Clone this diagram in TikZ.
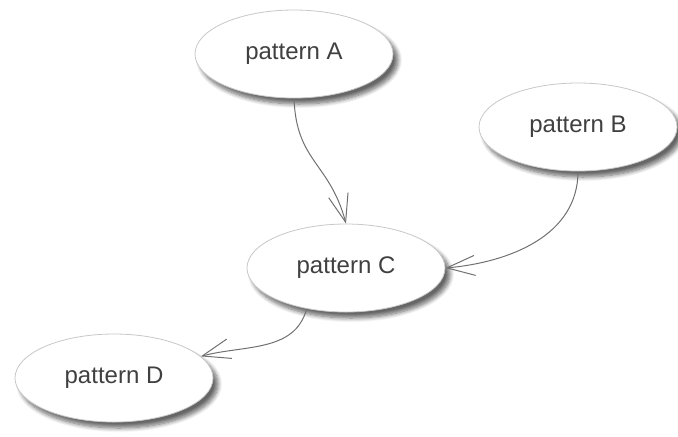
\documentclass[tikz,border=0pt]{standalone}
\usepackage{xcolor}
\usepackage{fontspec}
\setmainfont{Liberation Sans}
\usepackage{tikz}
\usetikzlibrary{shapes.geometric, arrows.meta, shadows.blur}
\definecolor{inkgray}{HTML}{404040}
\definecolor{edgegray}{HTML}{707070}
\definecolor{rimgray}{HTML}{C8C8C8}

\begin{document}
\begin{tikzpicture}[x=0.5pt, y=-0.5pt, font=\fontsize{12}{14}\selectfont]
    \tikzstyle{pattern} = [ellipse, minimum width=99pt, minimum height=44pt, inner sep=0pt,
      draw=rimgray, line width=0.4pt, fill=white, text=inkgray,
      blur shadow={shadow xshift=2.5pt, shadow yshift=-3pt, shadow blur steps=8, shadow opacity=60}]
    \tikzstyle{link} = [-{Straight Barb[length=14pt, width=10pt]}, draw=edgegray, line width=0.5pt]

    \useasboundingbox (0,0) rectangle (678,436);

    \node (patA) [pattern] at (294,54)  {pattern A};
    \node (patB) [pattern] at (578,127) {pattern B};
    \node (patC) [pattern] at (346,268) {pattern C};
    \node (patD) [pattern] at (114,378) {pattern D};

    \draw [link] (patA.south) to[out=-88, in=105, looseness=1.2] (patC.north);
    \draw [link] (patB.south) to[out=-90, in=5] (patC.east);
    \draw [link] (patC.226) to[out=-105, in=15] (patD.14);
\end{tikzpicture}
\end{document}
